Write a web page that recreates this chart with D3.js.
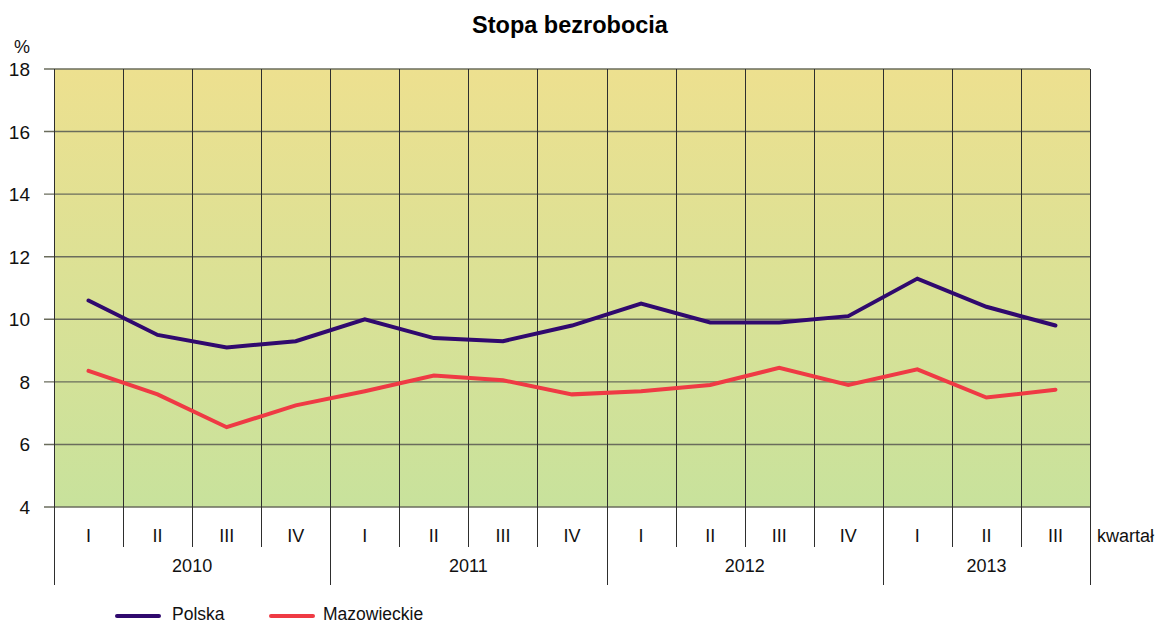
<!DOCTYPE html>
<html>
<head>
<meta charset="utf-8">
<script src="https://cdn.jsdelivr.net/npm/d3@7"></script>
<style>
  html, body { margin: 0; padding: 0; background: #fff; }
  svg { display: block; font-family: "Liberation Sans", Arial, sans-serif; }
</style>
</head>
<body>
<svg id="chart" width="1159" height="625"></svg>
<script>
const title = "Stopa bezrobocia";
const unitLabel = "%";
const axisTitleX = "kwartał";
const years = ["2010", "2011", "2012", "2013"];
const quartersPerYear = [["I","II","III","IV"],["I","II","III","IV"],["I","II","III","IV"],["I","II","III"]];
const yTicks = [4, 6, 8, 10, 12, 14, 16, 18];
const seriesNames = ["Polska", "Mazowieckie"];
const polska = [10.6, 9.5, 9.1, 9.3, 10.0, 9.4, 9.3, 9.8, 10.5, 9.9, 9.9, 10.1, 11.3, 10.4, 9.8];
const mazowieckie = [8.35, 7.6, 6.55, 7.25, 7.7, 8.2, 8.05, 7.6, 7.7, 7.9, 8.45, 7.9, 8.4, 7.5, 7.75];
const seriesColors = ["#30096e", "#ef3a44"];

const categories = [];
quartersPerYear.forEach((qs, yi) => qs.forEach(q => categories.push(years[yi] + "-" + q)));

const svg = d3.select("#chart");
const m = { left: 54, right: 1090, top: 69, bottom: 507 };

const x = d3.scaleBand().domain(categories).range([m.left, m.right]).paddingInner(0).paddingOuter(0);
const y = d3.scaleLinear().domain([4, 18]).range([m.bottom, m.top]);

// background gradient
const defs = svg.append("defs");
const grad = defs.append("linearGradient").attr("id", "bg").attr("x1", 0).attr("y1", 0).attr("x2", 0).attr("y2", 1);
grad.append("stop").attr("offset", "0%").attr("stop-color", "#ede08f");
grad.append("stop").attr("offset", "100%").attr("stop-color", "#c8e29c");
svg.append("rect").attr("x", m.left).attr("y", m.top).attr("width", m.right - m.left).attr("height", m.bottom - m.top).attr("fill", "url(#bg)");

// horizontal gridlines
svg.append("g").selectAll("line").data(yTicks).join("line")
  .attr("x1", m.left - 10).attr("x2", m.right)
  .attr("y1", d => y(d)).attr("y2", d => y(d))
  .attr("stroke", "#6a6c5c").attr("stroke-width", 1.4);

// vertical gridlines (category boundaries) inside plot + quarter ticks below
const bounds = categories.map(c => x(c)).concat([m.right]);
svg.append("g").selectAll("line").data(bounds).join("line")
  .attr("x1", d => Math.round(d) + 0.5).attr("x2", d => Math.round(d) + 0.5)
  .attr("y1", m.top).attr("y2", m.bottom + 40)
  .attr("stroke", "#2e2e2e").attr("stroke-width", 1);

// year separators
let idx = 0;
const yearBounds = [m.left];
const yearCenters = [];
quartersPerYear.forEach((qs, yi) => {
  const start = x(categories[idx]);
  idx += qs.length;
  const end = idx < categories.length ? x(categories[idx]) : m.right;
  yearBounds.push(end);
  yearCenters.push({ year: years[yi], cx: (start + end) / 2 });
});
svg.append("g").selectAll("line").data(yearBounds).join("line")
  .attr("x1", d => Math.round(d) + 0.5).attr("x2", d => Math.round(d) + 0.5)
  .attr("y1", m.bottom).attr("y2", 585)
  .attr("stroke", "#2e2e2e").attr("stroke-width", 1);

// y tick labels
svg.append("g").selectAll("text").data(yTicks).join("text")
  .attr("x", 30).attr("y", d => y(d) + 7)
  .attr("text-anchor", "end").attr("font-size", 19).attr("fill", "#111")
  .text(d => d);

svg.append("text").attr("x", 22).attr("y", 53).attr("text-anchor", "middle")
  .attr("font-size", 18).attr("fill", "#111").text(unitLabel);

// quarter labels
svg.append("g").selectAll("text").data(categories).join("text")
  .attr("x", d => x(d) + x.bandwidth() / 2).attr("y", 542)
  .attr("text-anchor", "middle").attr("font-size", 18).attr("fill", "#111")
  .text(d => d.split("-")[1]);

// year labels
svg.append("g").selectAll("text").data(yearCenters).join("text")
  .attr("x", d => d.cx).attr("y", 572)
  .attr("text-anchor", "middle").attr("font-size", 18).attr("fill", "#111")
  .text(d => d.year);

svg.append("text").attr("x", 1097).attr("y", 542).attr("font-size", 18).attr("fill", "#111").text(axisTitleX);

// title
svg.append("text").attr("x", 570).attr("y", 33).attr("text-anchor", "middle")
  .attr("font-size", 23.5).attr("font-weight", "bold").attr("fill", "#000").text(title);

// lines
const line = d3.line().x((d, i) => x(categories[i]) + x.bandwidth() / 2).y(d => y(d));
[polska, mazowieckie].forEach((s, i) => {
  svg.append("path").datum(s).attr("d", line)
    .attr("fill", "none").attr("stroke", seriesColors[i]).attr("stroke-width", 4)
    .attr("stroke-linejoin", "miter").attr("stroke-linecap", "round");
});

// legend
const legendItems = [{ x: 117, tx: 172 }, { x: 271, tx: 323 }];
seriesNames.forEach((n, i) => {
  const g = svg.append("g");
  g.append("line").attr("x1", legendItems[i].x).attr("x2", legendItems[i].x + 42)
    .attr("y1", 616).attr("y2", 616).attr("stroke", seriesColors[i]).attr("stroke-width", 4).attr("stroke-linecap", "round");
  g.append("text").attr("x", legendItems[i].tx).attr("y", 620).attr("font-size", 17.5).attr("fill", "#111").text(n);
});
</script>
</body>
</html>
